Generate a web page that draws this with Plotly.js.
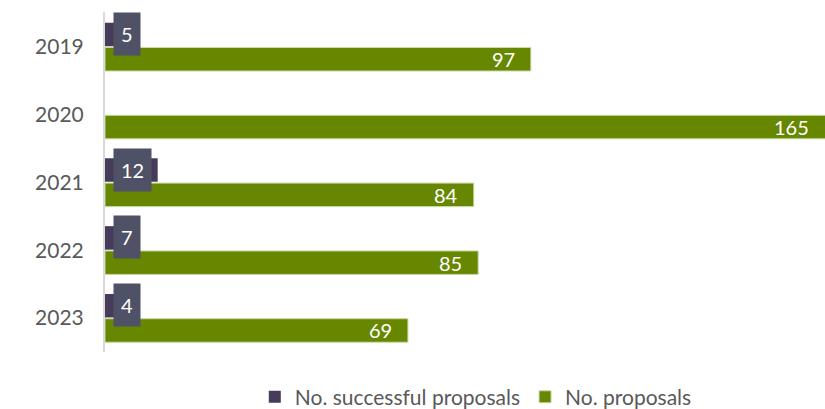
<!DOCTYPE html>
<html>
<head>
<meta charset="utf-8">
<script src="https://cdn.plot.ly/plotly-3.0.1.min.js"></script>
<style>html,body{margin:0;padding:0;background:#fff;}#chart{width:825px;height:409px;}</style>
</head>
<body>
<div id="chart"></div>
<script>
const years = ['2019', '2020', '2021', '2022', '2023'];
const successful = [5, null, 12, 7, 4];
const proposals = [97, 165, 84, 85, 69];
const seriesNames = ['No. successful proposals', 'No. proposals'];

const purple = '#463b5b';
const labelBox = '#4f5166';
const green = '#678700';
const xMax = 164;

const traces = [
  {
    type: 'bar', orientation: 'h', name: seriesNames[0],
    y: years, x: successful,
    marker: {color: purple, line: {width: 0}},
    hoverinfo: 'skip'
  },
  {
    type: 'bar', orientation: 'h', name: seriesNames[1],
    y: years, x: proposals,
    marker: {color: green, line: {color: '#c9d9a6', width: 1}},
    hoverinfo: 'skip'
  }
];

const annotations = [];
years.forEach((yr, i) => {
  if (successful[i] !== null) {
    annotations.push({
      x: 0, y: i - 0.19, xref: 'x', yref: 'y',
      text: String(successful[i]), showarrow: false,
      xanchor: 'left', yanchor: 'middle', xshift: 8,
      height: 28,
      bgcolor: labelBox, borderpad: 7,
      font: {family: 'Lato, sans-serif', size: 20, color: '#ffffff'}
    });
  }
  annotations.push({
    x: Math.min(proposals[i], xMax), y: i + 0.18, xref: 'x', yref: 'y',
    text: String(proposals[i]), showarrow: false,
    xanchor: 'right', yanchor: 'middle', xshift: -14,
    font: {family: 'Lato, sans-serif', size: 20, color: '#ffffff'}
  });
});

const layout = {
  width: 825, height: 409,
  margin: {l: 105, r: 0, t: 12, b: 57},
  paper_bgcolor: '#ffffff', plot_bgcolor: '#ffffff',
  barmode: 'group', bargap: 0.27, bargroupgap: 0.05,
  font: {family: 'Lato, sans-serif', color: '#595959'},
  xaxis: {range: [0, xMax], visible: false, fixedrange: true},
  yaxis: {
    type: 'category', autorange: 'reversed',
    showline: true, linecolor: '#d9d9d9', linewidth: 2,
    showgrid: false, zeroline: false,
    ticks: '', ticklen: 0, ticklabelstandoff: 15,
    tickfont: {family: 'Lato, sans-serif', size: 21, color: '#595959'}
  },
  showlegend: true,
  legend: {
    orientation: 'h', xref: 'paper', x: 0.515, xanchor: 'center',
    yref: 'container', y: 0.029, yanchor: 'middle',
    font: {family: 'Lato, sans-serif', size: 21, color: '#595959'},
    itemwidth: 30, traceorder: 'normal'
  },
  annotations: annotations
};

Plotly.newPlot('chart', traces, layout, {displayModeBar: false, staticPlot: true});
</script>
</body>
</html>
